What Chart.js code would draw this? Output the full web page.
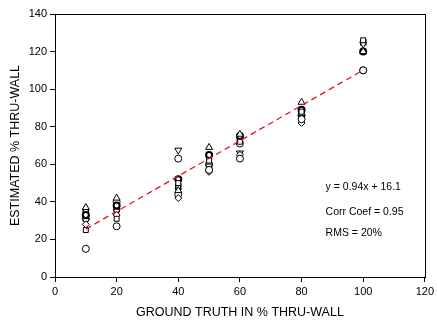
<!DOCTYPE html>
<html>
<head>
<meta charset="utf-8">
<script src="https://cdn.jsdelivr.net/npm/chart.js@4.4.1/dist/chart.umd.min.js"></script>
<style>
  html, body { margin: 0; padding: 0; background: #fff; }
  #wrap { width: 437px; height: 320px; }
</style>
</head>
<body>
<div id="wrap"><canvas id="chart" width="437" height="320"></canvas></div>
<script>
// valores de x (ground truth, % thru-wall)
const groundTruth = [10, 20, 40, 50, 60, 80, 100];

// valores estimados, una serie por simbolo
const serieCirculo   = [15, 27, 63, 57, 63, 84, 110];
const serieTriangulo = [37, 42, 46, 69, 76, 93, 120];
const serieCuadrado  = [25, 31, 50, 62, 72, 88, 126];
const serieRombo     = [28, 33, 42, 56, 65, 82, 110];
const serieTriInv    = [30, 35, 67.5, 59, 66, 85, 124];
const serieOscura    = [33, 38, 52, 65, 75, 89, 120];
const serieCirculo2  = [31, 40, 44, 60, 71, 86, 110];
const serieCuadrado2 = [35, 36, 48, 58, 73, 87, 125];

// recta de ajuste (extremos)
const ajusteX = [10, 100];
const ajusteY = [25.5, 110.1];

const ticksX = [0, 20, 40, 60, 80, 100, 120];
const ticksY = [0, 20, 40, 60, 80, 100, 120, 140];

const notas = ['y = 0.94x + 16.1', 'Corr Coef = 0.95', 'RMS = 20%'];

const fuente = "'Liberation Sans', Arial, sans-serif";

function puntos(valores) {
    return groundTruth.map((x, i) => ({ x: x, y: valores[i] }));
}

function serie(valores, estilo, radio, extra) {
    return Object.assign({
        type: 'scatter',
        data: puntos(valores),
        pointStyle: estilo,
        pointRadius: radio,
        pointBackgroundColor: '#fff',
        pointBorderColor: '#000',
        pointBorderWidth: 1,
        clip: false
    }, extra || {});
}

// marco completo alrededor del area del grafico + textos
const marco = {
    id: 'marco',
    afterDraw(chart) {
        const { ctx, chartArea, scales } = chart;
        ctx.save();
        ctx.strokeStyle = '#000';
        ctx.lineWidth = 1;
        ctx.strokeRect(Math.round(chartArea.left) + 0.5, Math.round(chartArea.top) + 0.5,
            Math.round(chartArea.right - chartArea.left), Math.round(chartArea.bottom - chartArea.top));
        ctx.fillStyle = '#000';
        ctx.font = '10.5px ' + fuente;
        ctx.textBaseline = 'middle';
        const xt = scales.x.getPixelForValue(87.8);
        const ys = [48, 34.6, 23.4];
        notas.forEach((t, i) => ctx.fillText(t, xt, scales.y.getPixelForValue(ys[i])));
        ctx.restore();
    }
};

const ctx = document.getElementById('chart').getContext('2d');
new Chart(ctx, {
    data: {
        datasets: [
            {
                type: 'line',
                data: ajusteX.map((x, i) => ({ x: x, y: ajusteY[i] })),
                borderColor: '#e8141c',
                borderWidth: 1.3,
                borderDash: [6, 4],
                pointRadius: 0,
                fill: false
            },
            serie(serieCirculo, 'circle', 3.5),
            serie(serieTriangulo, 'triangle', 4),
            serie(serieCuadrado, 'rect', 3.5),
            serie(serieRombo, 'rectRot', 3.5),
            serie(serieTriInv, 'triangle', 4, { rotation: 180 }),
            serie(serieOscura, 'circle', 3, { pointBorderWidth: 2 }),
            serie(serieCirculo2, 'circle', 3.5),
            serie(serieCuadrado2, 'rect', 3.5, { pointBorderWidth: 1.5 })
        ]
    },
    options: {
        responsive: false,
        animation: false,
        devicePixelRatio: 1,
        layout: { padding: { top: 14, right: 8, left: 0, bottom: 0 } },
        plugins: { legend: { display: false }, tooltip: { enabled: false } },
        scales: {
            x: {
                type: 'linear',
                min: 0, max: 120,
                afterBuildTicks: (s) => { s.ticks = ticksX.map(v => ({ value: v })); },
                afterFit: (s) => { s.height = 43; },
                grid: { drawOnChartArea: false, tickLength: 5, color: '#000' },
                border: { color: '#000' },
                ticks: { color: '#000', padding: 3, font: { family: fuente, size: 11 } },
                title: {
                    display: true,
                    text: 'GROUND TRUTH IN % THRU-WALL',
                    color: '#000',
                    font: { family: fuente, size: 12.5 },
                    padding: { top: 0, bottom: 0 }
                }
            },
            y: {
                type: 'linear',
                min: 0, max: 140,
                afterBuildTicks: (s) => { s.ticks = ticksY.map(v => ({ value: v })); },
                afterFit: (s) => { s.width = 55; },
                grid: { drawOnChartArea: false, tickLength: 5, color: '#000' },
                border: { color: '#000' },
                ticks: { color: '#000', padding: 3, font: { family: fuente, size: 11 } },
                title: {
                    display: true,
                    text: 'ESTIMATED % THRU-WALL',
                    color: '#000',
                    font: { family: fuente, size: 12.5 },
                    padding: { top: 8, bottom: 0 }
                }
            }
        }
    },
    plugins: [marco]
});
</script>
</body>
</html>
